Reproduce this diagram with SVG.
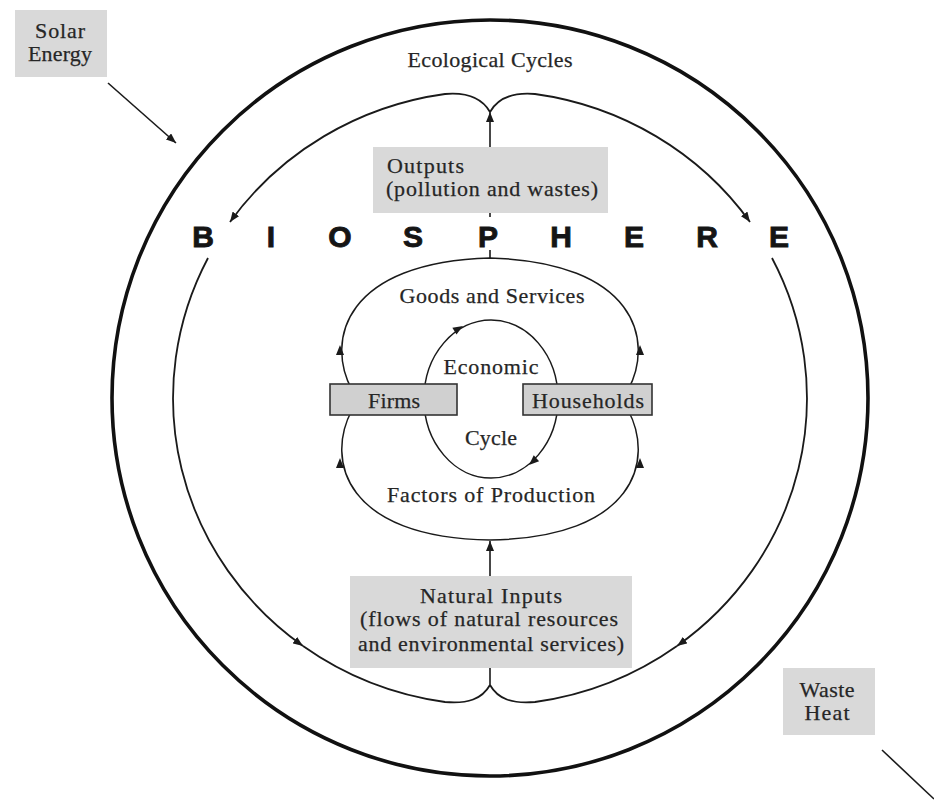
<svg xmlns="http://www.w3.org/2000/svg" xmlns:xlink="http://www.w3.org/1999/xlink" width="934" height="801" viewBox="0 0 934 801">
<style>
.t{font-family:"Liberation Serif","Times New Roman",serif;font-size:22px;fill:#262626;stroke:#262626;stroke-width:0.25;text-anchor:middle}
.tl{text-anchor:start}
.bio{font-family:"Liberation Sans",Arial,sans-serif;font-weight:bold;font-size:30px;fill:#151515;stroke:#151515;stroke-width:0.9;text-anchor:middle}
.box{fill:#d9d9d9;stroke:none}
.rbox{fill:#d0d0d0;stroke:#333;stroke-width:1.6}
.eco{fill:none;stroke:#1a1a1a;stroke-width:1.8}
.econ{fill:none;stroke:#1a1a1a;stroke-width:1.5}
.ln{fill:none;stroke:#1a1a1a;stroke-width:1.6}
</style>
<defs>
<marker id="arr" viewBox="0 0 10 8" refX="10" refY="4" markerWidth="10" markerHeight="8" markerUnits="userSpaceOnUse" orient="auto"><path d="M0,0 L10,4 L0,8 Z" fill="#1a1a1a"/></marker>
<path id="ah" d="M0,0 L-10,-4 L-10,4 Z" fill="#1a1a1a"/>
</defs>

<g id="biosphere-circle">
<circle cx="490" cy="398" r="378" fill="none" stroke="#111" stroke-width="3.6"/>
</g>

<g id="connectors">
<!-- ecological cycle -->
<path class="eco" d="M490,112 C482,98 468,92 445,94 A317,307 0 0 0 230,222" marker-end="url(#arr)"/>
<path class="eco" d="M490,112 C498,98 512,92 535,94 A317,307 0 0 1 750,222" marker-end="url(#arr)"/>
<path class="eco" d="M208,258 A317,307 0 0 0 303,646" marker-end="url(#arr)"/>
<path class="eco" d="M303,646 A317,307 0 0 0 445,702 C468,704 482,699 490,685"/>
<path class="eco" d="M772,258 A317,307 0 0 1 677,646" marker-end="url(#arr)"/>
<path class="eco" d="M677,646 A317,307 0 0 1 535,702 C512,704 498,699 490,685"/>
<line class="ln" x1="490" y1="147" x2="490" y2="112" marker-end="url(#arr)"/>
<line class="ln" x1="490" y1="668" x2="490" y2="685"/>
<line class="ln" x1="490" y1="213" x2="490" y2="217"/>
<line class="ln" x1="490" y1="250" x2="490" y2="259"/>
<!-- economic outer loops -->
<path class="econ" d="M352,390 C325,340 345,262 490,258 C635,262 655,340 628,390"/>
<path class="econ" d="M352,410 C325,460 345,538 490,540 C635,538 655,460 628,410"/>
<use xlink:href="#ah" transform="translate(340,345) rotate(-90)"/>
<use xlink:href="#ah" transform="translate(640,345) rotate(-90)"/>
<use xlink:href="#ah" transform="translate(340,458) rotate(-90)"/>
<use xlink:href="#ah" transform="translate(640,458) rotate(-90)"/>
<line class="ln" x1="490" y1="576" x2="490" y2="541" marker-end="url(#arr)"/>
<!-- economic cycle -->
<ellipse class="econ" cx="491" cy="399" rx="67" ry="79"/>
<use xlink:href="#ah" transform="translate(463,326) rotate(-31)"/>
<use xlink:href="#ah" transform="translate(529,465) rotate(138)"/>
<!-- energy -->
<line class="ln" x1="108" y1="83" x2="176" y2="143" marker-end="url(#arr)"/>
<line class="ln" x1="882" y1="750" x2="934" y2="799"/>
</g>

<g id="solar-energy">
<rect class="box" x="15" y="10" width="92" height="67"/>
<text class="t" x="60" y="38" textLength="50">Solar</text>
<text class="t" x="60" y="61" textLength="64">Energy</text>
</g>

<g id="waste-heat">
<rect class="box" x="783" y="668" width="92" height="67"/>
<text class="t" x="827" y="697" textLength="55">Waste</text>
<text class="t" x="827" y="720" textLength="45">Heat</text>
</g>

<g id="ecological-cycles">
<text class="t" x="490" y="67" textLength="165">Ecological Cycles</text>
</g>

<g id="outputs">
<rect class="box" x="373" y="147" width="235" height="66"/>
<text class="t tl" x="387" y="173" textLength="77">Outputs</text>
<text class="t tl" x="386" y="196" textLength="212">(pollution and wastes)</text>
</g>

<g id="biosphere-label">
<text class="bio" x="203" y="247">B</text>
<text class="bio" x="271" y="247">I</text>
<text class="bio" x="340" y="247">O</text>
<text class="bio" x="413" y="247">S</text>
<text class="bio" x="488" y="247">P</text>
<text class="bio" x="561" y="247">H</text>
<text class="bio" x="634" y="247">E</text>
<text class="bio" x="707" y="247">R</text>
<text class="bio" x="779" y="247">E</text>
</g>

<g id="goods-and-services">
<text class="t" x="492" y="303" textLength="185">Goods and Services</text>
</g>

<g id="economic-cycle">
<text class="t" x="491" y="374" textLength="95">Economic</text>
<text class="t" x="491" y="445" textLength="52">Cycle</text>
</g>

<g id="firms">
<rect class="rbox" x="330" y="384" width="127" height="31"/>
<text class="t" x="394" y="408" textLength="52">Firms</text>
</g>

<g id="households">
<rect class="rbox" x="523" y="384" width="129" height="31"/>
<text class="t" x="588" y="408" textLength="112">Households</text>
</g>

<g id="factors-of-production">
<text class="t" x="491" y="502" textLength="208">Factors of Production</text>
</g>

<g id="natural-inputs">
<rect class="box" x="350" y="576" width="282" height="92"/>
<text class="t" x="491" y="603" textLength="142">Natural Inputs</text>
<text class="t" x="489" y="626" textLength="258">(flows of natural resources</text>
<text class="t" x="491" y="651" textLength="266">and environmental services)</text>
</g>
</svg>
